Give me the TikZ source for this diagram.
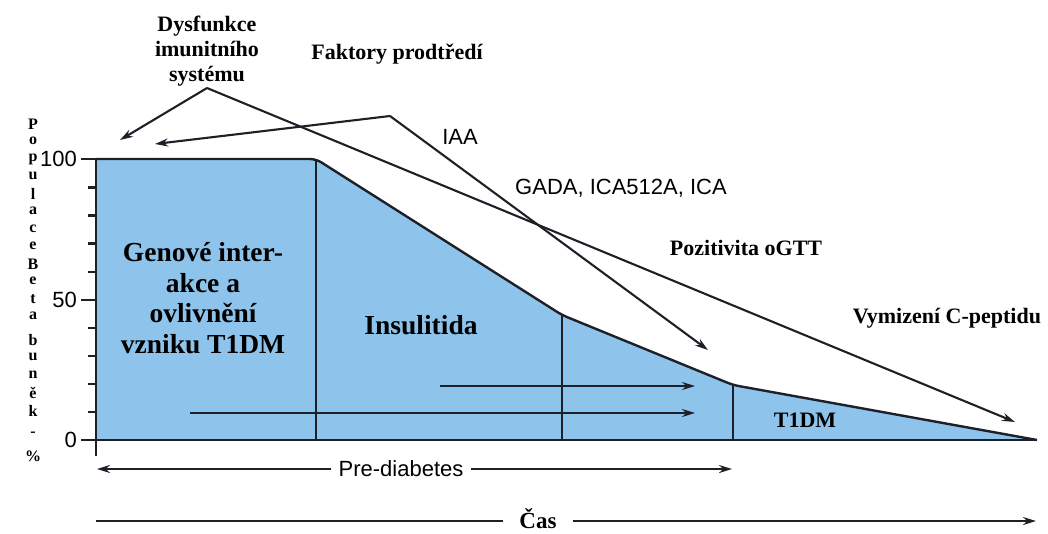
\documentclass[tikz,border=0pt]{standalone}
\usepackage{fontspec}
\setmainfont{Liberation Serif}
\newfontfamily\sansf{Liberation Sans}
\usetikzlibrary{arrows.meta}
\definecolor{cellblue}{RGB}{142,196,236}
\definecolor{ink}{RGB}{30,32,40}
\begin{document}
\begin{tikzpicture}[x=1pt,y=-1pt,line join=round,
  bl/.style={font=\fontsize{22}{25}\selectfont\bfseries,inner sep=0pt},
  big/.style={font=\fontsize{27.5}{30.5}\selectfont\bfseries,align=center,inner sep=0pt},
  sl/.style={font=\sansf\fontsize{22}{25}\selectfont,inner sep=0pt},
  yl/.style={font=\fontsize{16}{16}\selectfont\bfseries,inner sep=0pt},
  conn/.style={draw=ink,line width=2.1pt,-{Stealth[length=13pt,width=8pt]}},
  plain/.style={draw=ink,line width=2.1pt},
  outl/.style={draw=ink,line width=2.4pt},
  sep/.style={draw=ink,line width=1.8pt},
]
\useasboundingbox (0,0) rectangle (1048,533);

% region
\fill[cellblue] (96,159) -- (316,159) -- (562,315) -- (733,385) -- (1037,440) -- (96,440) -- cycle;
\draw[outl,rounded corners=6pt] (96,159) -- (316,159) -- (562,315) -- (733,385) -- (1037,440);
\draw[sep] (316,159) -- (316,440);
\draw[sep] (562,315) -- (562,440);
\draw[sep] (733,385) -- (733,440);
\draw[outl] (96,159) -- (96,456);
\draw[outl] (81,440) -- (1037,440);
\draw[outl] (81,159) -- (96,159);
\draw[outl] (81,300) -- (96,300);
\foreach \v in {1,2,3,4,6,7,8,9} \draw[outl] (88,440-28.05*\v) -- (96,440-28.05*\v);

% tick labels
\node[sl,anchor=east] (t100) at (77,159) {100};
\node[sl,anchor=east] (t50) at (77,300) {50};
\node[sl,anchor=east] (t0) at (77,440) {0};

% y label
\foreach \c/\yy [count=\k] in {P/124,o/141,p/159,u/176,l/194,a/211,c/229,e/246,B/264,e/281,t/299,a/316,b/340,u/357,n/375,ě/393,k/411,-/434,\%/456}
  \node[yl] (ylab\k) at (33,\yy) {\c};

% top labels
\node[bl,align=center] (dys) at (207,51) {Dysfunkce\\imunitního\\systému};
\node[bl] (fak) at (397,54) {Faktory prodtředí};
\coordinate (dysv) at (207,88);
\coordinate (dysa) at (120,140);
\coordinate (dysb) at (1015,422);
\coordinate (fakv) at (390,116);
\coordinate (faka) at (155,144);
\coordinate (fakb) at (708,350);
\draw[conn] (dysv) -- (dysa);
\draw[conn] (dysv) -- (dysb);
\draw[conn] (fakv) -- (faka);
\draw[conn] (fakv) -- (fakb);

\node[sl] (iaa) at (460,137) {IAA};
\node[sl] (gada) at (621,188) {GADA, ICA512A, ICA};
\node[bl] (ogtt) at (746,248) {Pozitivita oGTT};
\node[bl] (cpep) at (947,318) {Vymizení C-peptidu};
\node[bl] (t1dm) at (805,420) {T1DM};
\node[big] (gen) at (203,298) {Genové inter-\\akce a\\ovlivnění\\vzniku T1DM};
\node[big] (ins) at (421,325) {Insulitida};

% inner arrows
\coordinate (a1s) at (440,386);
\coordinate (a1e) at (695,386);
\coordinate (a2s) at (190,413);
\coordinate (a2e) at (695,413);
\draw[conn] (a1s) -- (a1e);
\draw[conn] (a2s) -- (a2e);

% pre-diabetes
\node[sl,inner xsep=7pt] (pre) at (401,469) {Pre-diabetes};
\coordinate (preL) at (97,469);
\coordinate (preR) at (732,469);
\draw[conn] (pre.west) -- (preL);
\draw[conn] (pre.east) -- (preR);

% time
\node[font=\fontsize{23}{25}\selectfont\bfseries,inner xsep=16pt,inner ysep=0pt] (cas) at (538,519) {Čas};
\coordinate (casL) at (96,521);
\coordinate (casR) at (1036,521);
\draw[plain] (cas.west |- casL) -- (casL);
\draw[conn] (cas.east |- casR) -- (casR);
\end{tikzpicture}
\end{document}
